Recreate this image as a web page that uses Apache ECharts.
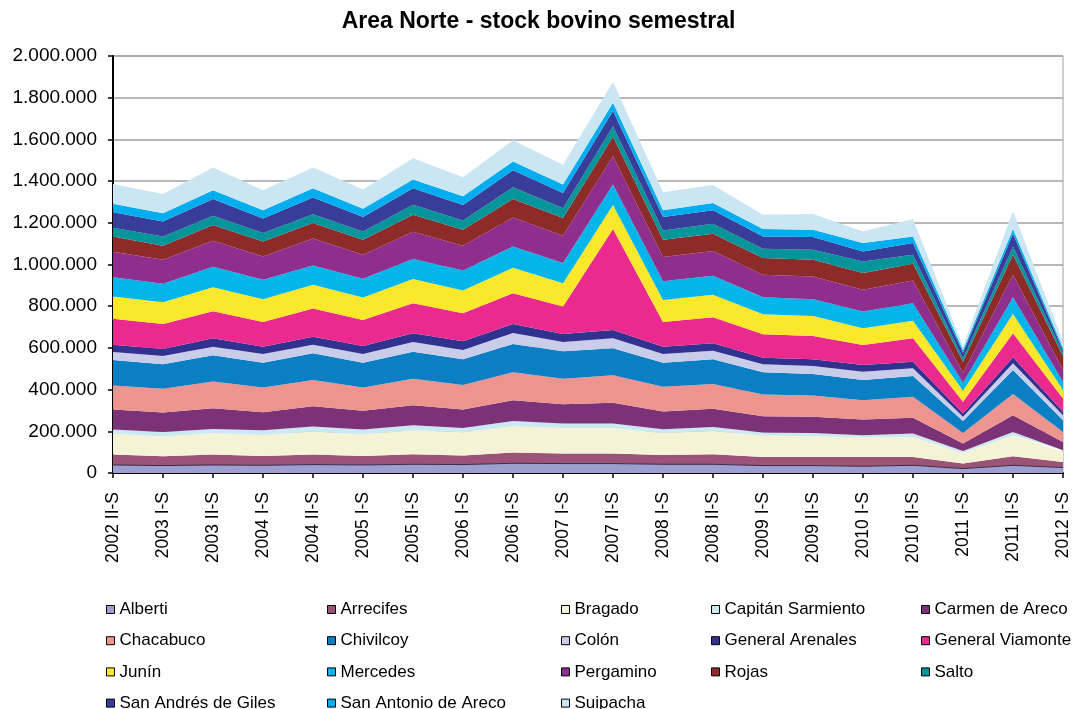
<!DOCTYPE html>
<html>
<head>
<meta charset="utf-8">
<title>Area Norte - stock bovino semestral</title>
<script src="https://cdn.jsdelivr.net/npm/echarts@6/dist/echarts.min.js"></script>
<style>
  html, body { margin: 0; padding: 0; background: #fff; }
  #chart { width: 1077px; height: 709px; }
</style>
</head>
<body>
<div id="chart"></div>
<script>
// semestres
var semestres = ['2002 II-S', '2003 I-S', '2003 II-S', '2004 I-S', '2004 II-S', '2005 I-S', '2005 II-S',
  '2006 I-S', '2006 II-S', '2007 I-S', '2007 II-S', '2008 I-S', '2008 II-S', '2009 I-S', '2009 II-S',
  '2010 I-S', '2010 II-S', '2011 I-S', '2011 II-S', '2012 I-S'];

// cabezas por partido
var alberti    = [38500, 35600, 38500, 37000, 40400, 38500, 41800, 40400, 46600, 45200, 45200, 41800, 41800, 35600, 35600, 32200, 37000, 21200, 37000, 26000];
var arrecifes  = [50000, 44700, 50000, 44700, 48100, 43000, 48100, 43300, 51500, 48100, 48100, 44700, 48100, 41300, 41300, 44700, 39900, 24000, 43300, 26900];
var bragado    = [100900, 94700, 103800, 101000, 110500, 104600, 115400, 112000, 126400, 123100, 123100, 105800, 112000, 102900, 99600, 93300, 96200, 51000, 101000, 48100];
var capitan    = [19300, 22100, 19300, 22600, 24100, 22600, 24000, 20700, 25500, 21100, 21100, 17800, 19300, 14400, 15800, 11100, 16300, 9600, 15800, 8100];
var carmen     = [96100, 93300, 99500, 86500, 97600, 89400, 96200, 88400, 99500, 92800, 99100, 85100, 86500, 78400, 76900, 75400, 75000, 35600, 80300, 39900];
var chacabuco  = [115400, 113500, 128300, 118800, 125000, 112500, 126500, 116900, 133200, 121700, 131700, 118300, 118800, 104300, 102900, 92800, 101000, 50900, 101000, 48100];
var chivilcoy  = [121700, 117300, 125100, 118300, 128400, 118300, 129800, 123500, 136100, 131700, 129800, 115400, 118700, 105800, 102400, 96200, 99500, 57700, 115400, 56300];
var colon      = [38400, 39900, 41300, 41800, 41300, 41800, 46600, 44700, 52900, 44700, 48100, 41800, 41400, 38500, 38500, 39900, 37000, 19200, 32200, 24000];
var arenales   = [35100, 33600, 40400, 35100, 38500, 38500, 41800, 41900, 43200, 38500, 39900, 35100, 35600, 31700, 32200, 32200, 31800, 16400, 28800, 15900];
var viamonte   = [125000, 120200, 129800, 118800, 134600, 125000, 144300, 134600, 147600, 131200, 484200, 118800, 125000, 112500, 112100, 96200, 112500, 55800, 115400, 64400];
var junin      = [105800, 104400, 115400, 109100, 114000, 107200, 115400, 108700, 121700, 112500, 115400, 105700, 107200, 96200, 96100, 80300, 84600, 52900, 92800, 39900];
var mercedes   = [93200, 88000, 97600, 92800, 92800, 89900, 96100, 96100, 102400, 96200, 97500, 89900, 91300, 81700, 80300, 79800, 83700, 38400, 80300, 39900];
var pergamino  = [121700, 115300, 125000, 112000, 129800, 115400, 131300, 118800, 139400, 131200, 136100, 115400, 118800, 107200, 108700, 104300, 108600, 48100, 107200, 56300];
var rojas      = [73600, 67400, 75500, 72100, 74000, 72100, 81700, 76900, 88500, 85100, 93300, 83200, 83200, 80300, 80200, 80300, 80300, 52900, 96200, 66200];
var salto      = [41800, 44700, 44700, 40400, 41400, 39900, 48100, 44700, 55800, 46200, 51000, 44700, 48000, 44700, 48100, 55800, 43300, 16300, 39900, 15000];
var sanAndres  = [73600, 72100, 80300, 70200, 80300, 69200, 78400, 74100, 81700, 73900, 72100, 64400, 64000, 59200, 61100, 48100, 56300, 27000, 61100, 13000];
var sanAntonio = [41800, 38500, 41400, 38500, 44700, 40000, 41800, 41300, 41800, 40000, 40400, 31800, 35600, 35600, 35100, 40400, 31700, 12900, 22600, 12000];
var suipacha   = [94700, 93200, 109100, 96200, 99500, 91300, 102400, 91400, 102500, 94800, 99000, 86500, 86500, 68700, 75500, 55700, 83600, 19200, 84600, 30000];

var partidos = ['Alberti', 'Arrecifes', 'Bragado', 'Capitán Sarmiento', 'Carmen de Areco', 'Chacabuco',
  'Chivilcoy', 'Colón', 'General Arenales', 'General Viamonte', 'Junín', 'Mercedes', 'Pergamino',
  'Rojas', 'Salto', 'San Andrés de Giles', 'San Antonio de Areco', 'Suipacha'];
var valores = [alberti, arrecifes, bragado, capitan, carmen, chacabuco, chivilcoy, colon, arenales,
  viamonte, junin, mercedes, pergamino, rojas, salto, sanAndres, sanAntonio, suipacha];
var colores = ['#9c9fd0', '#9b5478', '#f4f3d5', '#cbe9f2', '#7b3277', '#ee948f', '#0a7fc4', '#c9cde9',
  '#31318f', '#ea2a8e', '#fbe82b', '#02b6ec', '#8e2f8e', '#8c2b28', '#03959a', '#373d99', '#00aeef', '#c9e6f2'];

var fuente = '"Liberation Sans", Arial, sans-serif';

function puntos(v) {
  return String(v).replace(/\B(?=(\d{3})+(?!\d))/g, '.');
}

// columnas de la leyenda (como en el excel)
var columnas = [
  { left: 106, data: ['Alberti', 'Chacabuco', 'Junín', 'San Andrés de Giles'] },
  { left: 327, data: ['Arrecifes', 'Chivilcoy', 'Mercedes', 'San Antonio de Areco'] },
  { left: 561, data: ['Bragado', 'Colón', 'Pergamino', 'Suipacha'] },
  { left: 711, data: ['Capitán Sarmiento', 'General Arenales', 'Rojas'] },
  { left: 921, data: ['Carmen de Areco', 'General Viamonte', 'Salto'] }
];
var leyendas = [];
columnas.forEach(function (c) {
  leyendas.push({
    orient: 'vertical',
    left: c.left,
    top: 601,
    height: 140,
    padding: 0,
    itemGap: 14.2,
    itemWidth: 8,
    itemHeight: 8,
    icon: 'rect',
    selectedMode: false,
    itemStyle: { borderColor: '#000', borderWidth: 1 },
    textStyle: { fontFamily: fuente, fontSize: 17, color: '#000' },
    data: c.data
  });
});

var series = [];
for (var i = 0; i < partidos.length; i++) {
  series.push({
    name: partidos[i],
    type: 'line',
    stack: 'total',
    data: valores[i],
    symbol: 'none',
    showSymbol: false,
    color: colores[i],
    lineStyle: i === 0 ? { width: 1, color: '#3b2b45' } : { width: 0 },
    areaStyle: { color: colores[i], opacity: 1 },
    emphasis: { disabled: true }
  });
}

var chart = echarts.init(document.getElementById('chart'));
chart.setOption({
  animation: false,
  backgroundColor: '#fff',
  title: {
    text: 'Area Norte - stock bovino semestral',
    left: 'center',
    top: 10,
    padding: 0,
    textStyle: { fontFamily: fuente, fontSize: 23, fontWeight: 'bold', color: '#000' }
  },
  legend: leyendas,
  grid: {
    left: 113, right: 14, top: 56, bottom: 236,
    show: true, borderColor: '#a0a0a0', borderWidth: 1
  },
  xAxis: {
    type: 'category',
    boundaryGap: false,
    data: semestres,
    axisLine: { lineStyle: { color: '#000', width: 2 } },
    axisTick: { show: true, length: 5, lineStyle: { color: '#000', width: 1.5 } },
    axisLabel: { rotate: 90, interval: 0, margin: 19, fontFamily: fuente, fontSize: 17.5, color: '#000' },
    splitLine: { show: false }
  },
  yAxis: {
    type: 'value',
    min: 0,
    max: 2000000,
    interval: 200000,
    axisLine: { show: true, lineStyle: { color: '#000', width: 2 } },
    axisTick: { show: true, length: 5, lineStyle: { color: '#000', width: 1.5 } },
    axisLabel: { margin: 16, fontFamily: fuente, fontSize: 19, color: '#000', formatter: puntos },
    splitLine: { lineStyle: { color: '#a0a0a0', width: 1.5 } }
  },
  series: series
});
</script>
</body>
</html>
